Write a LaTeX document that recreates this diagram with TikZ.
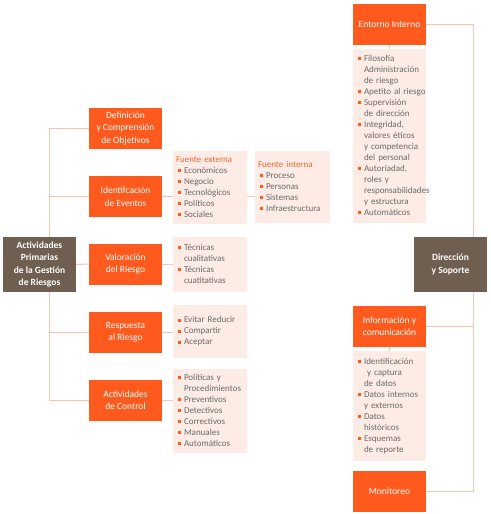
\documentclass[tikz,border=0pt]{standalone}
\usepackage{fontspec}
\setmainfont{Carlito}
\definecolor{orng}{HTML}{FF5A1E}
\definecolor{brwn}{HTML}{6E5F50}
\definecolor{lfill}{HTML}{FDECE5}
\definecolor{lline}{HTML}{F9C3AD}
\definecolor{gtext}{HTML}{6A6A6A}
\definecolor{ttl}{HTML}{F26434}
\newcommand\bi{\hspace*{2pt}\makebox[6pt][l]{\textcolor{orng}{\rule[0.12em]{2.7pt}{2.7pt}}}}
\newcommand\ci{\hspace*{8pt}}
\newcommand\lst[1]{\noindent\begin{tabular}[c]{@{}l@{}}#1\end{tabular}}
\tikzset{
  obox/.style={fill=orng, text=white, minimum width=73pt, minimum height=41pt, inner sep=1pt, align=center, font=\fontsize{9.5}{12.5}\selectfont},
  bbox/.style={fill=brwn, text=white, minimum width=73pt, minimum height=55pt, inner sep=1pt, align=center, font=\bfseries\fontsize{9.5}{12.5}\selectfont},
  lbox/.style={fill=lfill, text=gtext, inner xsep=3pt, inner ysep=0pt, text width=68pt, align=left, font=\fontsize{9}{11}\selectfont},
  conn/.style={draw=lline, line width=1pt},
}
\begin{document}
\begin{tikzpicture}[x=1pt,y=-1pt]
\useasboundingbox (0,0) rectangle (490,514);
% left column nodes
\node[obox] (def) at (125.5,128.5) {Definición\\y Comprensión\\de Objetivos};
\node[obox] (ide) at (125.5,196.5) {Identifcación\\de Eventos};
\node[obox] (val) at (125.5,264) {Valoración\\del Riesgo};
\node[obox] (res) at (125.5,332.5) {Respuesta\\al Riesgo};
\node[obox] (con) at (125.5,400) {Actividades\\de Control};
% list boxes
\node[lbox, minimum height=73pt] (ext) at (210,187.5) {\lst{\textcolor{ttl}{Fuente externa}\\\bi Económicos\\\bi Negocio\\\bi Tecnológicos\\\bi Políticos\\\bi Sociales}};
\node[lbox, minimum height=72pt, text width=69pt] (int) at (292.5,187) {\lst{\textcolor{ttl}{Fuente interna}\\\bi Proceso\\\bi Personas\\\bi Sistemas\\\bi Infraestructura}};
\node[lbox, minimum height=55pt] (vall) at (210,264.5) {\lst{\bi Técnicas\\\ci cualitativas\\\bi Técnicas\\\ci cuatitativas}};
\node[lbox, minimum height=53pt] (resl) at (210,331.5) {\lst{\bi Evitar Reducir\\\bi Compartir\\\bi Aceptar}};
\node[lbox, minimum height=84pt] (conl) at (210,411) {\lst{\bi Políticas y\\\ci Procedimientos\\\bi Preventivos\\\bi Detectivos\\\bi Correctivos\\\bi Manuales\\\bi Automáticos}};
% right column
\node[obox] (ent) at (389.5,24.5) {Entorno Interno};
\node[lbox, minimum height=174pt, text width=67pt] (entl) at (389.5,136) {\lst{\bi Filosofía\\\ci Administración\\\ci de riesgo\\\bi Apetito al riesgo\\\bi Supervisión\\\ci de dirección\\\bi Integridad,\\\ci valores éticos\\\ci y competencia\\\ci del personal\\\bi Autoriadad,\\\ci roles y\\\ci responsabilidades\\\ci y estructura\\\bi Automáticos}};
\node[obox] (inf) at (389.5,326.5) {Información y\\comunicación};
\node[lbox, minimum height=110pt, text width=67pt] (infl) at (389.5,406) {\lst{\bi Identificación\\\ci\ y captura\\\ci de datos\\\bi Datos internos\\\ci y externos\\\bi Datos\\\ci históricos\\\bi Esquemas\\\ci de reporte}};
\node[obox] (mon) at (389.5,491.5) {Monitoreo};
% connectors
\coordinate (spT) at (49,128.5);
\coordinate (spB) at (49,400);
\draw[conn] (spT) -- (spB);
\draw[conn] (def.west) -- (spT);
\draw[conn] (ide.west) -- (ide.west -| spT);
\draw[conn] (res.west) -- (res.west -| spT);
\draw[conn] (con.west) -- (spB);
\draw[conn] (ide.east) -- (ide.east -| ext.west);
\draw[conn] (ext.east |- ide.east) -- (ide.east -| int.west);
\draw[conn] (val.east) -- (val.east -| vall.west);
\draw[conn] (res.east) -- (res.east -| resl.west);
\draw[conn] (con.east) -- (con.east -| conl.west);
\coordinate (rT) at (473,24.5);
\coordinate (rB) at (473,491.5);
\draw[conn] (ent.east) -- (rT) -- (rB) -- (mon.east);
\draw[conn] (inf.east) -- (inf.east -| rT);
\draw[conn] (ent.south) -- (entl.north);
\draw[conn] (inf.south) -- (infl.north);
% boxes drawn over spines
\node[bbox] (main) at (39.5,264.5) {Actividades\\Primarias\\de la Gestión\\de Riesgos};
\draw[conn] (main.east) -- (val.west);
\node[bbox] (dir) at (450.5,264.5) {Dirección\\y Soporte};
\end{tikzpicture}
\end{document}
